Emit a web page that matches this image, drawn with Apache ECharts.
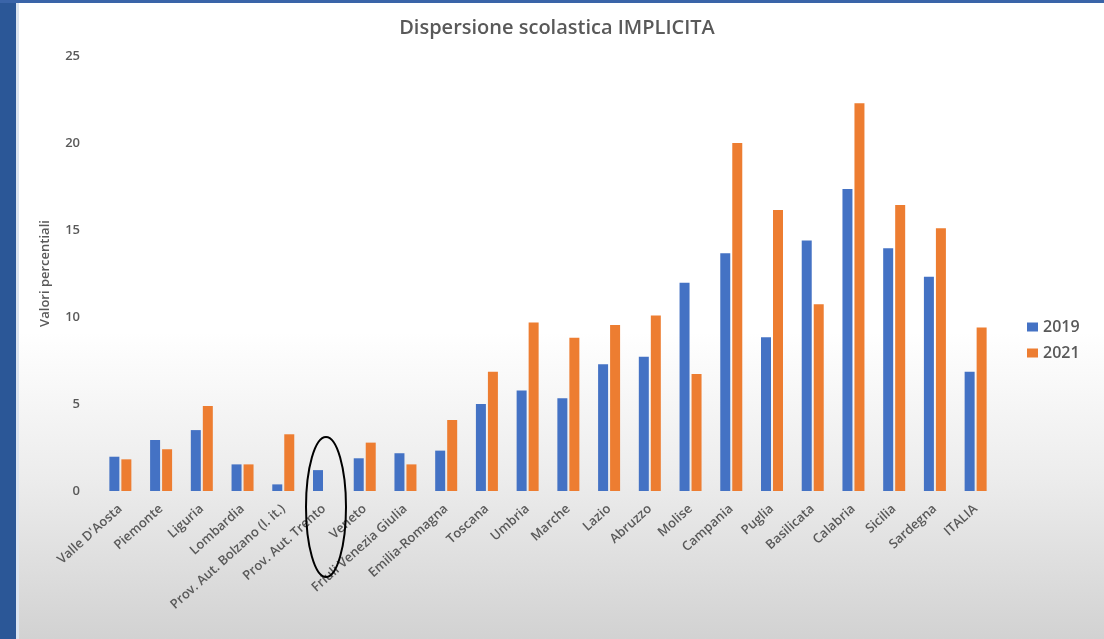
<!DOCTYPE html>
<html>
<head>
<meta charset="utf-8">
<script src="https://cdn.jsdelivr.net/npm/echarts@6/dist/echarts.min.js"></script>
<style>
  html, body { margin: 0; padding: 0; width: 1104px; height: 639px; overflow: hidden; }
  body {
    background: linear-gradient(to bottom, #ffffff 0%, #ffffff 52%, #ececec 75%, #d2d2d2 100%);
    position: relative;
  }
  #strip { position: absolute; left: 0; top: 0; width: 16px; height: 639px; background: #2b5797; }
  #strip2 { position: absolute; left: 16px; top: 0; width: 3px; height: 639px; background: #dbe4f0; }
  #topbar { position: absolute; left: 0; top: 0; width: 1104px; height: 3px; background: #3a64a8; }
  #main { position: absolute; left: 0; top: 0; width: 1104px; height: 639px; }
</style>
</head>
<body>
<div id="strip"></div>
<div id="strip2"></div>
<div id="topbar"></div>
<div id="main"></div>
<script>
const categories = ["Valle D'Aosta", "Piemonte", "Liguria", "Lombardia", "Prov. Aut. Bolzano (l. it.)", "Prov. Aut. Trento", "Veneto", "Friuli Venezia Giulia", "Emilia-Romagna", "Toscana", "Umbria", "Marche", "Lazio", "Abruzzo", "Molise", "Campania", "Puglia", "Basilicata", "Calabria", "Sicilia", "Sardegna", "ITALIA"];
const values2019 = [1.97, 2.93, 3.5, 1.53, 0.38, 1.2, 1.88, 2.17, 2.32, 5.0, 5.77, 5.33, 7.28, 7.72, 11.97, 13.66, 8.83, 14.39, 17.36, 13.95, 12.32, 6.86];
const values2021 = [1.82, 2.4, 4.89, 1.53, 3.26, 0, 2.78, 1.53, 4.08, 6.86, 9.69, 8.81, 9.54, 10.08, 6.72, 20.0, 16.15, 10.73, 22.28, 16.44, 15.1, 9.39];
const yTicks = [0, 5, 10, 15, 20, 25];
const seriesNames = ["2019", "2021"];

const textColor = '#595959';
const font = "'Open Sans', 'Liberation Sans', sans-serif";
const chart = echarts.init(document.getElementById('main'), null, { renderer: 'canvas' });
const option = {
  backgroundColor: 'transparent',
  animation: false,
  title: {
    text: 'Dispersione scolastica IMPLICITA',
    left: 552, top: 13, textAlign: 'center',
    textStyle: { color: textColor, fontSize: 20, fontWeight: 600, fontFamily: font }
  },
  legend: {
    orient: 'vertical', left: 1022, top: 314,
    itemWidth: 11, itemHeight: 9, itemGap: 10,
    icon: 'rect',
    data: seriesNames,
    textStyle: { color: textColor, fontSize: 16, fontFamily: font, fontWeight: 600 }
  },
  grid: { left: 100, right: 108, top: 56, bottom: 148, containLabel: false },
  xAxis: {
    type: 'category', data: categories,
    axisLine: { show: false }, axisTick: { show: false },
    axisLabel: { rotate: 42, interval: 0, color: textColor, fontSize: 13, fontWeight: 600, fontFamily: font, margin: 16 }
  },
  yAxis: {
    type: 'value', min: yTicks[0], max: yTicks[yTicks.length - 1], interval: 5,
    name: 'Valori percentiali', nameLocation: 'middle', nameGap: 48, nameRotate: 90,
    nameTextStyle: { color: textColor, fontSize: 13, fontFamily: font, fontWeight: 600 },
    axisLine: { show: false }, axisTick: { show: false },
    splitLine: { show: false },
    axisLabel: { color: textColor, fontSize: 13, fontWeight: 600, fontFamily: font, margin: 20 }
  },
  series: [
    { name: seriesNames[0], type: 'bar', data: values2019, barWidth: 10, barGap: '20%', itemStyle: { color: '#4472c4' } },
    { name: seriesNames[1], type: 'bar', data: values2021, barWidth: 10, barGap: '20%', itemStyle: { color: '#ed7d31' } }
  ]
};
chart.setOption(option);
const p = chart.convertToPixel({ xAxisIndex: 0, yAxisIndex: 0 }, [5, 0]);
chart.setOption({
  graphic: [{
    type: 'ellipse',
    shape: { cx: p[0] + 2, cy: p[1] + 16, rx: 20, ry: 70 },
    style: { fill: 'none', stroke: '#000', lineWidth: 2 },
    z: 100
  }]
});
</script>
</body>
</html>
